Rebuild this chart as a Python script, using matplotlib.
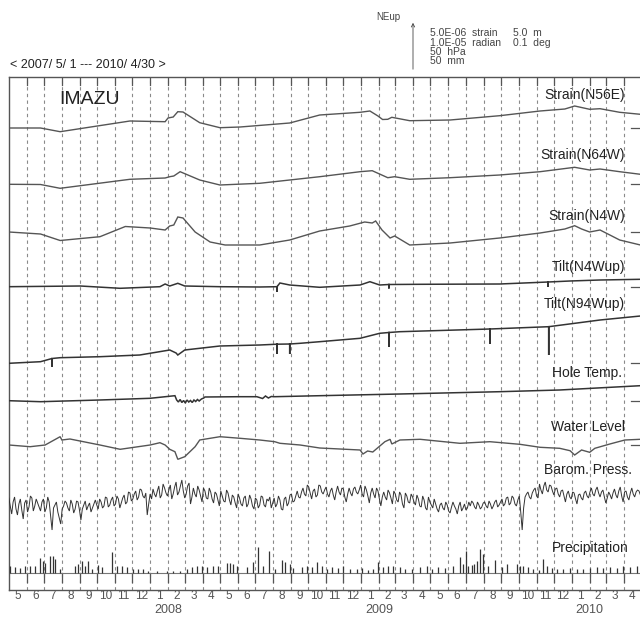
import numpy as np
import matplotlib
matplotlib.use("Agg")
import matplotlib.pyplot as plt

# ---------------- data (days since 2007-05-01, deflection in plot units, up = positive) -------------
strain_n56e_days = [0, 55, 89, 210, 271, 276, 285, 293, 302, 331, 366, 401, 487, 539, 609, 626, 640,
                    648, 657, 664, 695, 765, 851, 921, 964, 981, 1007, 1025, 1059, 1095]
strain_n56e_vals = [0, 0, -3.7, 7, 6.3, 10, 11, 16.3, 16, 5.3, 0.3, 1, 5, 13, 15.7, 17, 12,
                    8.5, 8.7, 10.7, 7.3, 8, 12.3, 17, 19, 22, 18.7, 19.3, 15.7, 13.7]

strain_n64w_days = [0, 55, 89, 210, 271, 279, 286, 297, 331, 366, 435, 539, 609, 630, 657, 669,
                    695, 765, 851, 921, 981, 1007, 1025, 1059, 1095]
strain_n64w_vals = [-0.3, -0.5, -4.3, 4.7, 6, 7.3, 8, 12.3, 4, -1, 0.7, 7.3, 12.3, 13.3, 6.3, 7.3,
                    4.7, 6.3, 9, 12.3, 16.7, 14, 15, 12.3, 9.7]

strain_n4w_days = [0, 55, 89, 158, 202, 245, 271, 279, 286, 293, 302, 323, 349, 375, 435, 487, 539,
                   591, 617, 630, 636, 647, 661, 669, 695, 765, 851, 921, 964, 981, 993, 1007, 1025,
                   1059, 1095]
strain_n4w_vals = [0, -2, -8.5, -4.7, 5.5, 4, 2, 6, 7, 15, 14, 0, -10, -13, -13, -8, 1,
                   6, 10, 9, 11, 2, -6, -4, -13, -11, -6, -1, 3, 6.3, 3, 0, 2,
                   -8, -13]

tilt_n4w_days = [0, 124, 193, 262, 271, 279, 293, 305, 366, 435, 465, 465, 465, 470, 487, 539, 609,
                 626, 643, 659, 659, 659, 713, 851, 935, 935, 935, 973, 1025, 1095]
tilt_n4w_vals = [0.3, 1, -1.3, 0.3, 3, 1, 3.7, 1, 0.3, 0, 0.3, -4.7, 0.3, 4, 2, -0.3, 2,
                 5.3, 2, 2.5, -1.5, 2.5, 2.7, 3, 5, 0, 5, 6, 7, 7.7]

tilt_n94w_days = [0, 55, 75, 75, 75, 89, 158, 227, 279, 290, 293, 305, 366, 435, 465, 465, 465,
                  487, 487, 487, 505, 539, 609, 643, 659, 659, 659, 678, 817, 834, 834, 834,
                  936, 936, 936, 1025, 1095]
tilt_n94w_vals = [-0.3, 1.3, 4.5, -3.7, 4.5, 5.3, 6.3, 8, 13, 10, 8, 13, 17, 18, 18.8, 9, 18.8,
                  19, 9, 19, 19.7, 21.3, 24.7, 29.7, 30.5, 16, 30.5, 31.3, 33.7, 34, 19, 34,
                  36.3, 8, 36.3, 43, 47]

hole_temp_days = [0, 55, 158, 245, 288, 291, 294, 297, 300, 303, 306, 309, 312, 315, 318, 321, 324,
                  327, 330, 334, 338, 340, 400, 430, 440, 445, 450, 455, 461, 539, 678, 851, 955, 1095]
hole_temp_vals = [0.3, -0.7, 1, 2.7, 5.3, 1, -1, 1.5, -1.5, 0.5, -2, 1, -1, 0.5, -1.5, 1, -0.5,
                  1.5, 0, 2, 3, 4, 4.3, 4.3, 2.5, 5, 3, 4.5, 4.3, 5.3, 7, 9.3, 11, 15.3]

water_days = [0, 37, 63, 89, 92, 106, 158, 193, 245, 262, 271, 279, 288, 293, 305, 323, 331, 366,
              401, 435, 461, 470, 505, 539, 609, 614, 622, 631, 652, 661, 664, 678, 713, 782, 834,
              886, 921, 955, 973, 981, 993, 1007, 1016, 1042, 1068, 1095]
water_vals = [0, -1.7, 0, 8.3, 5, 6, 0, -4.3, 0, 2.3, 0, -4.3, -6.7, -14.3, -11.7, -1.7, 5, 8.3,
              6.7, 5, 3.3, 1.7, 0, -3, -5, -9, -6, -7, 3.3, 5.7, 1, 5, 5.7, 1.7, 3.3,
              0.7, -2.3, -3.3, -5.7, -10, -5, -7.3, -3.3, 1, 5, 5.7]

# barometric pressure: readings every 5 days plus the readings half-way between them
barom_days = list(range(0, 1096, 5))
barom_vals = [2, -14, 3, -15, 1, -19, 0, -7, 2, -6,
              -3, -11, 1, -8, -2, -30, -5, -12, -24, -6,
              -3, -11, -4, -9, -2, -20, -5, -10, -3, -8,
              0, -9, -2, -6, 2, -5, 3, -4, 1, -3,
              5, -2, 7, 1, 9, 3, 10, 2, -15, 6,
              11, 3, 14, 5, 12, 4, 15, 6, 18, 8,
              20, 2, 14, -4, 12, 3, 10, -2, 9, 1,
              8, -3, 6, -6, 4, -2, 7, -5, 3, -8,
              2, -6, 4, -4, 1, -9, 0, -5, 3, -7,
              -1, -8, 2, -4, 0, -10, 3, -3, 6, -1,
              9, 2, 12, 4, 13, 1, 11, 5, 14, 6,
              13, 3, 12, 0, 14, 5, 11, -2, 12, 4,
              13, 6, 15, 3, 10, -3, 12, 2, 9, -6,
              8, 0, 7, -4, 6, -2, 5, -8, 4, -3,
              3, -5, 1, -7, 0, -10, -2, -8, -4, -12,
              -3, -10, -5, -13, -2, -9, -6, -11, -4, -8,
              -6, -3, -9, -5, -7, -2, -8, -4, -6, 0,
              -5, 1, -4, 3, -3, 2, -6, 4, -30, 3,
              8, 1, 10, 4, 16, 6, 18, 8, 14, 5,
              12, 3, 10, -2, 9, 1, 7, -4, 6, 0,
              9, 2, 12, 4, 13, 3, 10, -3, 8, 1,
              11, 2, 13, -2, 9, 0, 12, 3, 10, 5]
barom_mid_days = [2.5 + 5 * k for k in range(219)]
barom_mid_vals = [-6, -2, -9, -4, -10, -3, -12, 4, -11, 1,
                  -7, -2, -12, 3, -16, -8, -2, -18, -9, -1,
                  -8, 0, -13, -1, -10, -9, -1, -6, -12, -4,
                  -5, 1, -8, 3, -7, 0, -6, 4, -8, 2,
                  -4, 8, -1, 6, 0, 11, 4, 7, -4, 1,
                  6, 9, 2, 16, 7, 10, 1, 13, 5, 14,
                  9, 6, 17, 3, 6, 14, 4, 12, 2, 12,
                  1, 8, 0, 9, -1, 10, 0, 5, -3, 6,
                  -4, 2, -7, 5, -6, 2, -8, 4, -5, 1,
                  3, -3, -7, 4, -9, 1, -6, 5, -2, 4,
                  3, 8, 6, 15, 7, 9, 3, 15, 8, 10,
                  6, 9, 5, 8, 8, 12, 3, 6, 7, 11,
                  8, 10, 6, 14, 4, 7, 6, 12, 1, 3,
                  3, 10, 2, 9, 0, 8, -4, 7, -2, 6,
                  -2, 5, -6, 4, -8, 3, -5, 1, -9, -5,
                  -8, -2, -11, -7, -6, -14, -2, -8, -10, -2,
                  -1, -7, -2, -9, -3, -6, -1, -9, -2, -7,
                  -2, -6, 2, -5, 4, -4, 0, -12, -8, 6,
                  3, 7, 12, 2, 10, 14, 10, 15, 9, 11,
                  6, 9, 4, 6, 3, 8, 1, 5, 2, 7,
                  4, 8, 6, 10, 7, 8, 3, 2, 5, 7,
                  5, 9, 4, 8, 3, 7, 6, 8, 9]

precip_days = [2, 11, 19, 28, 37, 45, 54, 59, 63, 71, 77, 80, 89, 115, 120, 127, 132, 137, 144,
               155, 162, 179, 188, 196, 205, 215, 224, 233, 241, 257, 274, 285, 297, 309, 318,
               326, 335, 344, 354, 363, 378, 383, 389, 395, 413, 423, 432, 441, 451, 461, 473,
               479, 487, 492, 508, 517, 525, 534, 543, 551, 560, 570, 579, 591, 603, 612, 622,
               631, 640, 649, 657, 666, 678, 687, 699, 713, 725, 733, 744, 756, 770, 782, 787,
               792, 796, 803, 806, 811, 817, 822, 830, 843, 855, 864, 881, 886, 891, 900, 909,
               920, 926, 933, 941, 950, 960, 973, 985, 995, 1007, 1019, 1030, 1042, 1054, 1064,
               1077, 1089]
precip_vals = [7, 6, 5, 7, 7, 7, 15, 12, 10, 17, 17, 14, 4, 7, 9, 12, 7, 12, 4,
               8, 6, 21, 7, 7, 6, 4, 4, 4, 2, 2, 2, 2, 2, 4, 6,
               7, 7, 6, 7, 7, 10, 10, 9, 7, 6, 11, 26, 7, 22, 4, 13,
               11, 9, 5, 6, 7, 6, 11, 7, 4, 6, 5, 7, 4, 4, 5, 3,
               4, 11, 6, 7, 7, 6, 4, 4, 6, 7, 4, 6, 5, 7, 16, 9,
               22, 7, 8, 9, 12, 24, 19, 7, 13, 6, 9, 9, 7, 7, 6, 4,
               3, 14, 7, 5, 4, 4, 5, 4, 4, 5, 6, 5, 6, 5, 7,
               6, 7]

series_labels = ["Strain(N56E)", "Strain(N64W)", "Strain(N4W)", "Tilt(N4Wup)", "Tilt(N94Wup)",
                 "Hole Temp.", "Water Level", "Barom. Press.", "Precipitation"]

# ---------------- layout -------------
W, H = 640, 619
fig = plt.figure(figsize=(W / 100, H / 100), dpi=100)
fig.patch.set_facecolor("white")
plt.rcParams['font.family'] = ['Liberation Sans', 'DejaVu Sans']

TOTAL_DAYS = 1096
ax_left, ax_right, ax_top, ax_bot = 8.8, 641.0, 77.0, 590.0
ax = fig.add_axes([ax_left / W, 1 - ax_bot / H, (ax_right - ax_left) / W, (ax_bot - ax_top) / H])
ax.set_xlim(0, TOTAL_DAYS)
ax.set_ylim(0, ax_bot - ax_top)
ax.set_xticks([])
ax.set_yticks([])
for s in ["left", "top", "bottom"]:
    ax.spines[s].set_color("#555555")
    ax.spines[s].set_linewidth(1.0)
ax.spines["right"].set_visible(False)

# month grid
START = np.datetime64('2007-05-01')
month_starts = np.arange(np.datetime64('2007-05'), np.datetime64('2010-06'), dtype='datetime64[M]')
bounds = (month_starts.astype('datetime64[D]') - START).astype(int)
month_nums = month_starts.astype(int) % 12 + 1
top_u = ax_bot - ax_top
for d in bounds[1:-1]:
    ax.plot([d, d], [0, top_u], color="#8a8a8a", lw=0.8, dashes=(3.0, 3.0), zorder=1)
    ax.plot([d, d], [top_u - 8, top_u], color="#555555", lw=0.9, zorder=2)
    ax.plot([d, d], [17, 8], color="#555555", lw=0.9, zorder=2)
for i in range(len(bounds) - 1):
    c = 0.5 * (bounds[i] + bounds[i + 1])
    ax.text(c, -6, str(month_nums[i]), ha="center", va="center", fontsize=8.5,
            color="#555555", clip_on=False)
for yr in ["2008", "2009", "2010"]:
    d = int((np.datetime64(yr + '-02-01') - START).astype(int))
    ax.text(d, -20, yr, ha="center", va="center", fontsize=9, color="#555555", clip_on=False)

# baselines (layout positions in plot units)
base = {"n56e": 462, "n64w": 406, "n4w": 358, "t4": 303, "t94": 227, "ht": 189, "wl": 145,
        "bp": 90, "pr": 17}

def tr(days, vals, b, color="#555555", lw=1.0):
    ax.plot(days, [b + v for v in vals], color=color, lw=lw, zorder=3, solid_joinstyle="miter")

tr(strain_n56e_days, strain_n56e_vals, base["n56e"])
tr(strain_n64w_days, strain_n64w_vals, base["n64w"])
tr(strain_n4w_days, strain_n4w_vals, base["n4w"])
tr(tilt_n4w_days, tilt_n4w_vals, base["t4"], color="#333333", lw=1.1)
tr(tilt_n94w_days, tilt_n94w_vals, base["t94"], color="#333333", lw=1.1)
tr(hole_temp_days, hole_temp_vals, base["ht"], color="#333333", lw=1.1)
tr(water_days, water_vals, base["wl"])

bp_d = np.array(barom_days + barom_mid_days, dtype=float)
bp_v = np.array(barom_vals + barom_mid_vals, dtype=float)
order = np.argsort(bp_d)
tr(list(bp_d[order]), list(bp_v[order]), base["bp"], color="#333333", lw=0.7)

# precipitation
ax.axhline(base["pr"], color="#777777", lw=0.8, zorder=2)
ax.vlines(precip_days, base["pr"], [base["pr"] + v for v in precip_vals], color="#333333",
          lw=0.9, zorder=3)

# right-edge reference marks
for k in ["n56e", "n64w", "n4w", "t4", "t94", "ht", "wl"]:
    ax.plot([1078, TOTAL_DAYS], [base[k], base[k]], color="#555555", lw=0.9, zorder=3)

# series labels
label_pos = [(625, 95), (625, 155), (625, 216), (625, 267), (625, 304), (622, 373),
             (625, 427), (632, 470), (629, 548)]
for lab, (x, y) in zip(series_labels, label_pos):
    fig.text(x / W, 1 - y / H, lab, ha="right", va="center", fontsize=10, color="#222222")

fig.text(59 / W, 1 - 99 / H, "IMAZU", ha="left", va="center", fontsize=14, color="#222222")
fig.text(10 / W, 1 - 65 / H, "< 2007/ 5/ 1 --- 2010/ 4/30 >", ha="left", va="center",
         fontsize=9, color="#222222")

# scale legend
fig.text(376 / W, 1 - 17 / H, "NEup", ha="left", va="center", fontsize=7, color="#444444")
fig.add_artist(matplotlib.patches.FancyArrowPatch((413 / W, 1 - 72 / H), (413 / W, 1 - 20 / H),
               transform=fig.transFigure, arrowstyle="->", mutation_scale=6, lw=0.6,
               color="#444444"))
leg_left = ["5.0E-06  strain", "1.0E-05  radian", "50  hPa", "50  mm"]
leg_right = ["5.0  m", "0.1  deg"]
for i, t in enumerate(leg_left):
    fig.text(430 / W, 1 - (33 + 9.5 * i) / H, t, ha="left", va="center", fontsize=7.5,
             color="#444444")
for i, t in enumerate(leg_right):
    fig.text(513 / W, 1 - (33 + 9.5 * i) / H, t, ha="left", va="center", fontsize=7.5,
             color="#444444")

fig.savefig("out.png", dpi=100, facecolor="white")
